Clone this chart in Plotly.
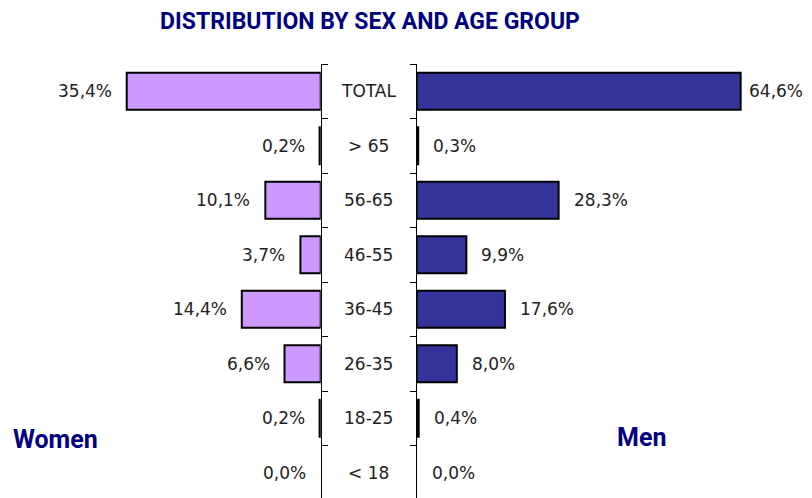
import plotly.graph_objects as go

categories = ["TOTAL", "> 65", "56-65", "46-55", "36-45", "26-35", "18-25", "< 18"]
women = [35.4, 0.2, 10.1, 3.7, 14.4, 6.6, 0.2, 0.0]
men = [64.6, 0.3, 28.3, 9.9, 17.6, 8.0, 0.4, 0.0]

title_text = "DISTRIBUTION BY SEX AND AGE GROUP"
women_label = "Women"
men_label = "Men"

W, H = 812, 498
TOP = 64
TXT = dict(family="DejaVu Sans", size=17, color="#222222")
HEAD = dict(family="Roboto", size=25, color="#000080")


def pct(v):
    return f"{v:.1f}%".replace(".", ",")


fig = go.Figure()
fig.add_trace(go.Bar(
    y=categories, x=women, orientation="h", xaxis="x", yaxis="y",
    width=0.68,
    marker=dict(color="#CC99FF", line=dict(color="black", width=[0 if v == 0 else 2 for v in women])),
    hoverinfo="skip", showlegend=False,
))
fig.add_trace(go.Bar(
    y=categories, x=men, orientation="h", xaxis="x2", yaxis="y2",
    width=0.68,
    marker=dict(color="#333399", line=dict(color="black", width=[0 if v == 0 else 2 for v in men])),
    hoverinfo="skip", showlegend=False,
))

left_px, right_px = 320.7, 416.7
span = (H - TOP) / 54.5
yr = [-0.5 + span, -0.5]
yax = dict(type="category", categoryorder="array", categoryarray=categories,
           range=yr, showline=True, linecolor="black", linewidth=1,
           ticks="outside", tickson="boundaries", ticklen=6, tickcolor="black",
           showticklabels=False, showgrid=False, zeroline=False, fixedrange=True)

fig.update_layout(
    width=W, height=H, margin=dict(l=0, r=0, t=TOP, b=0),
    paper_bgcolor="white", plot_bgcolor="white",
    xaxis=dict(domain=[0, left_px / W], range=[left_px / 5.48, 0], visible=False, fixedrange=True),
    xaxis2=dict(domain=[right_px / W, 1], range=[0, (W - right_px) / 5.015], visible=False, fixedrange=True),
    yaxis=dict(anchor="x", side="right", **yax),
    yaxis2=dict(anchor="x2", side="left", **yax),
    title=dict(text="<b>" + title_text + "</b>", x=370 / W, xanchor="center",
               y=1 - 21 / H, yanchor="middle",
               font=dict(family="Roboto", size=23, color="#000080")),
)

for c, v in zip(categories, women):
    fig.add_annotation(x=v, xref="x", y=c, yref="y", showarrow=False, text=pct(v),
                       font=TXT, xanchor="right", yanchor="middle", xshift=-13)
for c, v in zip(categories, men):
    shift = 13 if v < max(men) else 6
    fig.add_annotation(x=v, xref="x2", y=c, yref="y2", showarrow=False, text=pct(v),
                       font=TXT, xanchor="left", yanchor="middle", xshift=shift)

for c in categories:
    fig.add_annotation(x=368.7 / W, xref="paper", y=c, yref="y", showarrow=False,
                       text=c.replace("<", "&lt;").replace(">", "&gt;"), font=TXT,
                       xanchor="center", yanchor="middle")

fig.add_annotation(x=55 / W, xref="paper", y=(H - 439) / (H - TOP), yref="paper",
                   text="<b>" + women_label + "</b>", showarrow=False, font=HEAD,
                   xanchor="center", yanchor="middle")
fig.add_annotation(x=641 / W, xref="paper", y=(H - 437) / (H - TOP), yref="paper",
                   text="<b>" + men_label + "</b>", showarrow=False, font=HEAD,
                   xanchor="center", yanchor="middle")

fig.write_html("out.html", config={"displayModeBar": False},
               post_script="document.body.style.margin='0';document.body.style.overflow='hidden';")
